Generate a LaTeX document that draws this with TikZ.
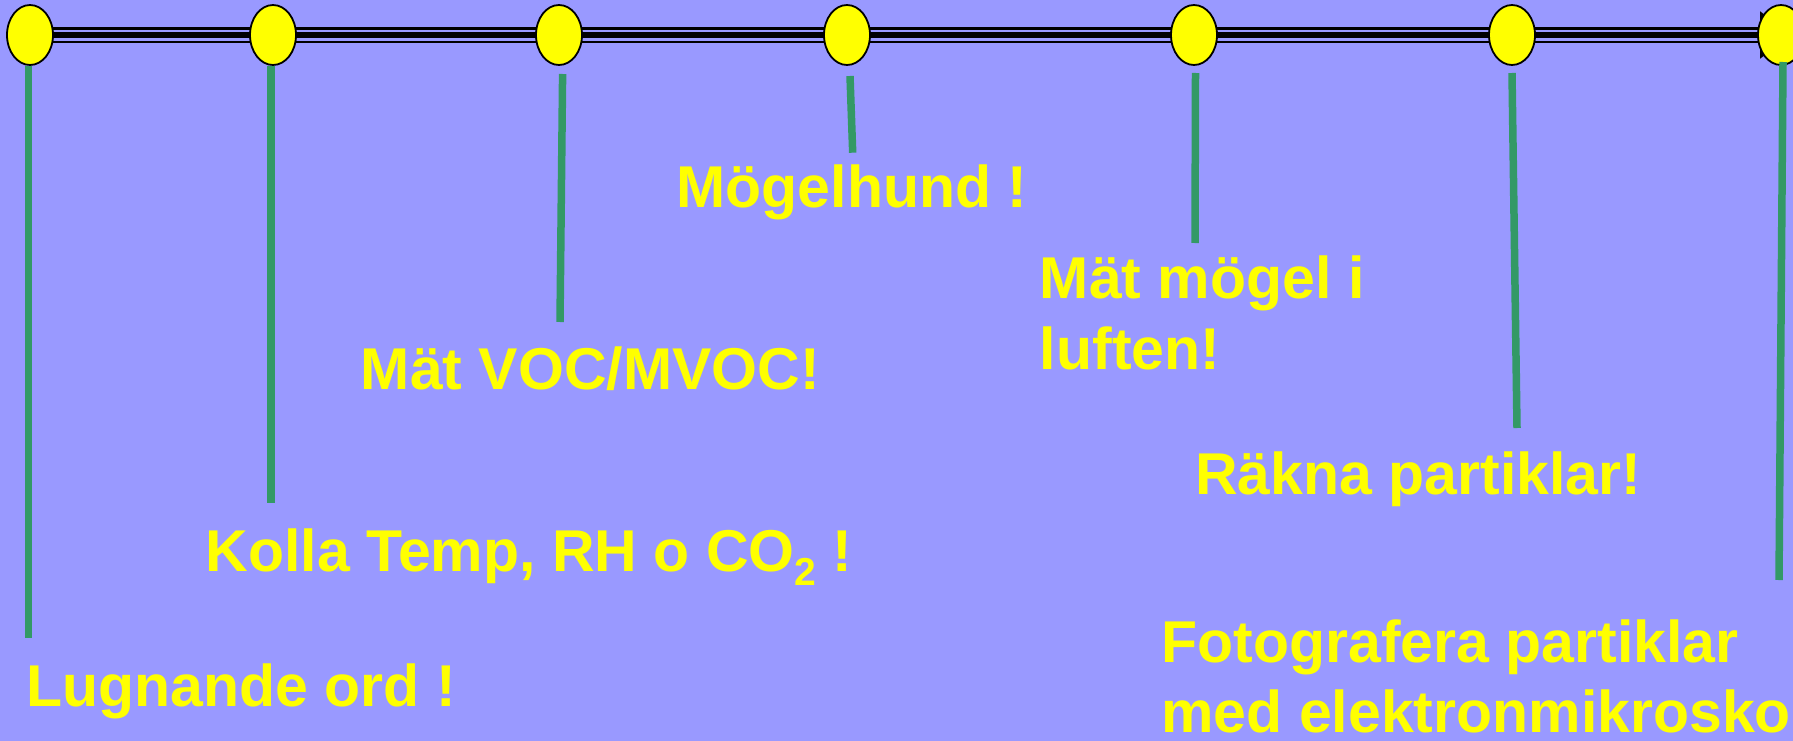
\documentclass[tikz,border=0pt]{standalone}
\usepackage{fontspec}
\usetikzlibrary{arrows.meta,positioning,shapes.geometric}
\newfontfamily\slidefont{Liberation Sans}
\definecolor{sky}{HTML}{9999FF}
\definecolor{leaf}{HTML}{339966}
\definecolor{lemon}{HTML}{FFFF00}
\pgfdeclarelayer{back}
\pgfdeclarelayer{rail}
\pgfsetlayers{back,rail,main}

\begin{document}
\begin{tikzpicture}[x=1pt,y=-1pt]
    \tikzset{dot/.style= {draw, ellipse
    , line width=1.8pt
    , fill=lemon
    , minimum width=46pt
    , minimum height=60pt
    , inner sep=0pt
      },
    stem/.style={draw=leaf, line width=7.5pt},
    txt/.style={text=lemon, anchor=base west, inner sep=0pt, align=left
    , font=\slidefont\bfseries\fontsize{59}{70.5}\selectfont}
    }

\begin{pgfonlayer}{back}
\fill[sky] (0,0) rectangle (1793,741);
\end{pgfonlayer}
\useasboundingbox (0,0) rectangle (1793,741);

\node [dot] (dot0) at (30,35) {};
\node [dot] (dot1) at (273,35) {};
\node [dot] (dot2) at (559,35) {};
\node [dot] (dot3) at (847,35) {};
\node [dot] (dot4) at (1194,35) {};
\node [dot] (dot5) at (1512,35) {};
\node [dot] (dot6) at (1781,35) {};

\begin{pgfonlayer}{rail}
 \path[draw, line width=2.4pt]
  ([yshift=6.5pt]dot0.center) -- ([yshift=6.5pt]dot6.center);
 \path[draw, line width=2.4pt]
  ([yshift=-6.8pt]dot0.center) -- ([yshift=-6.8pt]dot6.center);
 \path[draw, line width=6pt, -{Triangle[width=46pt,length=32pt]}]
  (dot0.center) -- ([xshift=11pt]dot6.center);
\end{pgfonlayer}

\node [txt] (txt0) at (26.3,706.7) {Lugnande ord !};
\node [txt] (txt1) at (205.6,571) {Kolla Temp, RH o CO\raisebox{-14pt}{\fontsize{39}{39}\selectfont 2} !};
\node [txt] (txt2) at (360.7,389.3) {Mät VOC/MVOC!};
\node [txt] (txt3) at (676.4,207.3) {Mögelhund !};
\node [txt] (txt4) at (1039.7,369.3) {Mät mögel i\\luften!};
\node [txt] (txt5) at (1195,494.3) {Räkna partiklar!};
\node [txt] (txt6) at (1161.3,732.5) {Fotografera partiklar\\med elektronmikrosko};

% stems from the dots down towards the texts
\coordinate (top0) at (28.6,66);   \coordinate (bot0) at (28.6,638);
\coordinate (top1) at (271,66);    \coordinate (bot1) at (271,503);
\coordinate (top2) at (562.6,74);  \coordinate (bot2) at (560,322);
\coordinate (top3) at (850,76);    \coordinate (bot3) at (852.7,152.7);
\coordinate (top4) at (1195.5,73); \coordinate (bot4) at (1195,243);
\coordinate (top5) at (1512,73);   \coordinate (bot5) at (1517,428);
\coordinate (top6) at (1783,62);   \coordinate (bot6) at (1779,580);

 \path[stem] (top0) -- (bot0);
 \path[stem] (top1) -- (bot1);
 \path[stem] (top2) -- (bot2);
 \path[stem] (top3) -- (bot3);
 \path[stem] (top4) -- (bot4);
 \path[stem] (top5) -- (bot5);
 \path[stem] (top6) -- (bot6);
\end{tikzpicture}
\end{document}
